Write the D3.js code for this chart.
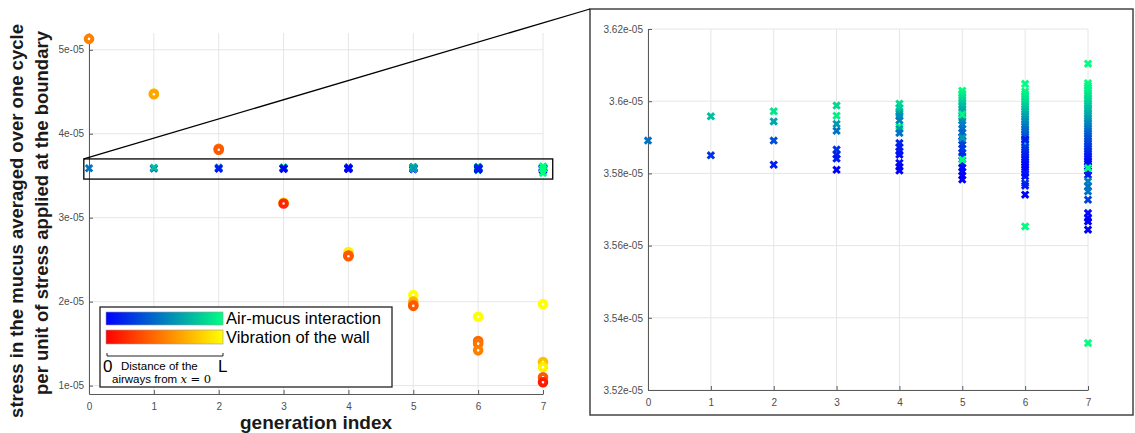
<!DOCTYPE html>
<html>
<head>
<meta charset="utf-8">
<script src="https://cdn.jsdelivr.net/npm/d3@7"></script>
<style>
body { margin: 0; background: #fff; }
text { font-family: "Liberation Sans", Arial, sans-serif; }
.tick text { fill: #4d4d4d; font-size: 10px; }
</style>
</head>
<body>
<div id="chart"></div>
<script>
// chart size
var chart_width = 1135;
var chart_height = 433;

// generation index on x
var generations = [0, 1, 2, 3, 4, 5, 6, 7];

// tick values
var leftYTicks = [1e-5, 2e-5, 3e-5, 4e-5, 5e-5];
var rightYTicks = [3.52e-5, 3.54e-5, 3.56e-5, 3.58e-5, 3.6e-5, 3.62e-5];

// air-mucus interaction, [stress (x1e-5), distance 0..1] per generation
var air0 = [[3.5891, 0.45]];
var air1 = [[3.5850, 0.2], [3.5958, 0.75]];
var air2 = [[3.5972, 0.9], [3.5944, 0.65], [3.5891, 0.3], [3.5824, 0.1]];
var air3 = [[3.5988, 0.85], [3.5960, 0.95], [3.5937, 0.6], [3.5918, 0.45],
            [3.5866, 0.2], [3.5852, 0.15], [3.5841, 0.1], [3.5810, 0.0]];
var air4 = [[3.5993, 0.85], [3.5981, 0.8], [3.5972, 0.75], [3.5965, 0.65],
            [3.5958, 0.55], [3.5930, 1.0], [3.5947, 0.5], [3.5923, 0.6],
            [3.5912, 0.45], [3.5884, 0.15], [3.5873, 0.1], [3.5861, 0.1],
            [3.5852, 0.05], [3.5829, 0.05], [3.5818, 0.0], [3.5808, 0.0]];
var air5 = [[3.6029, 1.0], [3.6021, 0.95], [3.6012, 0.9], [3.6004, 0.85],
            [3.5996, 0.8], [3.5988, 0.75], [3.5979, 0.7], [3.5971, 0.65],
            [3.5954, 0.6], [3.5946, 0.55], [3.5935, 0.5], [3.5924, 0.45],
            [3.5913, 0.4], [3.5902, 0.35], [3.5891, 0.3], [3.5880, 0.25],
            [3.5869, 0.22], [3.5857, 0.2], [3.5848, 0.15], [3.5827, 0.1],
            [3.5816, 0.06], [3.5805, 0.04], [3.5794, 0.02], [3.5783, 0.0],
            [3.5963, 0.95], [3.5838, 1.0], [3.5899, 0.6]];
var air6 = [[3.5653, 1.0], [3.6048, 1.0], [3.6027, 0.98], [3.6020, 0.95],
            [3.6013, 0.92], [3.6006, 0.9], [3.5999, 0.87], [3.5992, 0.84],
            [3.5985, 0.8], [3.5978, 0.76], [3.5971, 0.72], [3.5964, 0.68],
            [3.5957, 0.64], [3.5950, 0.6], [3.5943, 0.56], [3.5936, 0.52],
            [3.5929, 0.48], [3.5922, 0.44], [3.5915, 0.4], [3.5908, 0.36],
            [3.5901, 0.33], [3.5894, 0.3], [3.5887, 0.27], [3.5880, 0.8],
            [3.5873, 0.22], [3.5866, 0.19], [3.5859, 0.16], [3.5852, 0.13],
            [3.5845, 0.1], [3.5838, 0.08], [3.5831, 0.06], [3.5824, 0.04],
            [3.5817, 0.02], [3.5810, 0.0], [3.5800, 0.1], [3.5792, 0.05],
            [3.5773, 0.2], [3.5766, 0.1], [3.5741, 0.0], [3.5893, 0.1]];
var air7 = [[3.6050, 1.0], [3.6043, 0.98], [3.6036, 0.96], [3.6029, 0.94],
            [3.6022, 0.92], [3.6015, 0.9], [3.6008, 0.87], [3.6001, 0.84],
            [3.5994, 0.81], [3.5987, 0.78], [3.5980, 0.75], [3.5973, 0.72],
            [3.5966, 0.69], [3.5959, 0.66], [3.5952, 0.62], [3.5945, 0.58],
            [3.5938, 0.54], [3.5931, 0.5], [3.5924, 0.46], [3.5917, 0.42],
            [3.5910, 0.38], [3.5903, 0.35], [3.5896, 0.32], [3.5889, 0.29],
            [3.5882, 0.26], [3.5875, 0.23], [3.5868, 0.2], [3.5861, 0.17],
            [3.5854, 0.14], [3.5847, 0.11], [3.5840, 0.08], [3.5833, 0.06],
            [3.5826, 0.04], [3.5819, 0.02], [3.5806, 0.05], [3.5796, 0.1],
            [3.5778, 0.5], [3.5764, 0.45], [3.5750, 0.45], [3.5727, 0.25],
            [3.5690, 0.05], [3.5676, 0.02], [3.5667, 0.0], [3.5644, 0.0],
            [3.5815, 1.0], [3.6104, 1.0], [3.5330, 1.0]];
var airMucus = [air0, air1, air2, air3, air4, air5, air6, air7];

// vibration of the wall, [stress (x1e-5), distance 0..1] per generation
var wall0 = [[5.13, 0.5]];
var wall1 = [[4.48, 0.8], [4.47, 0.65]];
var wall2 = [[3.82, 0.45], [3.81, 0.35]];
var wall3 = [[3.18, 0.9], [3.17, 0.15]];
var wall4 = [[2.59, 0.95], [2.55, 0.3], [2.54, 0.35]];
var wall5 = [[2.08, 1.0], [2.00, 0.7], [1.96, 0.5], [1.95, 0.35]];
var wall6 = [[1.82, 1.0], [1.53, 0.4], [1.50, 0.45], [1.42, 0.5]];
var wall7 = [[1.97, 1.0], [1.28, 0.75], [1.22, 0.95], [1.10, 0.35], [1.04, 0.1]];
var wallVib = [wall0, wall1, wall2, wall3, wall4, wall5, wall6, wall7];

// colormaps (winter / autumn)
function winter(t){ return d3.rgb(0, 255 * t, 255 * (1 - 0.5 * t)); }
function autumn(t){ return d3.rgb(255, 255 * t, 0); }

function fmt(v){
    return (+(v / 1e-5).toPrecision(4)) + 'e-05';
}

function flatten(list){
    var out = [];
    list.forEach(function(pts, g){
        pts.forEach(function(p){ out.push({gen: generations[g], v: p[0] * 1e-5, t: p[1]}); });
    });
    return out;
}
var airPts = flatten(airMucus);
var wallPts = flatten(wallVib);

var svg = d3.select('#chart')
            .append('svg')
            .attr('width', chart_width)
            .attr('height', chart_height);

// scales
var xL = d3.scaleLinear().domain([0, 7]).range([89, 543]);
var yL = d3.scaleLinear().domain([0.9e-5, 5.2e-5]).range([394, 33]);
var xR = d3.scaleLinear().domain([0, 7]).range([648, 1088]);
var yR = d3.scaleLinear().domain([3.52e-5, 3.62e-5]).range([390, 29]);

function drawAxes(g, x, y, yTicks){
    // grid
    g.append('g').selectAll('line').data(generations).enter().append('line')
        .attr('x1', function(d){ return x(d); }).attr('x2', function(d){ return x(d); })
        .attr('y1', y.range()[0]).attr('y2', y.range()[1])
        .attr('stroke', '#e6e6e6');
    g.append('g').selectAll('line').data(yTicks).enter().append('line')
        .attr('x1', x.range()[0]).attr('x2', x.range()[1])
        .attr('y1', function(d){ return y(d); }).attr('y2', function(d){ return y(d); })
        .attr('stroke', '#e6e6e6');

    var ax = g.append('g')
        .attr('transform', 'translate(0,' + y.range()[0] + ')')
        .call(d3.axisBottom(x).tickValues(generations).tickFormat(d3.format('d'))
              .tickSizeInner(-4).tickSizeOuter(0).tickPadding(9));
    var ay = g.append('g')
        .attr('transform', 'translate(' + x.range()[0] + ',0)')
        .call(d3.axisLeft(y).tickValues(yTicks).tickFormat(fmt)
              .tickSizeInner(-4).tickSizeOuter(0).tickPadding(5));
    [ax, ay].forEach(function(a){
        a.select('.domain').attr('stroke', '#5a5a5a');
        a.selectAll('.tick line').attr('stroke', '#5a5a5a');
    });
}

function crosses(g, pts, x, y){
    g.append('g').selectAll('path').data(pts).enter().append('path')
        .attr('d', function(d){
            var cx = x(d.gen), cy = y(d.v), r = 3.2;
            return 'M' + (cx - r) + ',' + (cy - r) + 'L' + (cx + r) + ',' + (cy + r) +
                   'M' + (cx - r) + ',' + (cy + r) + 'L' + (cx + r) + ',' + (cy - r);
        })
        .attr('stroke', function(d){ return winter(d.t); })
        .attr('stroke-width', 3)
        .attr('fill', 'none');
}

// ---------- left panel ----------
var left = svg.append('g');
drawAxes(left, xL, yL, leftYTicks);

crosses(left, airPts, xL, yL);

left.append('g').selectAll('circle').data(wallPts).enter().append('circle')
    .attr('cx', function(d){ return xL(d.gen); })
    .attr('cy', function(d){ return yL(d.v); })
    .attr('r', 3.3)
    .attr('fill', '#fff')
    .attr('stroke', function(d){ return autumn(d.t); })
    .attr('stroke-width', 4);

// zoom box
var boxX0 = xL(-0.08), boxX1 = xL(7.15), boxY0 = yL(3.7e-5), boxY1 = yL(3.46e-5);
left.append('rect')
    .attr('x', boxX0).attr('y', boxY0)
    .attr('width', boxX1 - boxX0).attr('height', boxY1 - boxY0)
    .attr('fill', 'none').attr('stroke', '#000').attr('stroke-width', 1.3);

// axis titles
left.append('text')
    .attr('transform', 'translate(23,221) rotate(-90)')
    .attr('text-anchor', 'middle')
    .attr('font-size', '18.5px').attr('font-weight', 'bold').attr('fill', '#1a1a1a')
    .text('stress in the mucus averaged over one cycle');
left.append('text')
    .attr('transform', 'translate(48,213) rotate(-90)')
    .attr('text-anchor', 'middle')
    .attr('font-size', '18.5px').attr('font-weight', 'bold').attr('fill', '#1a1a1a')
    .text('per unit of stress applied at the boundary');
left.append('text')
    .attr('x', 316).attr('y', 429)
    .attr('text-anchor', 'middle')
    .attr('font-size', '19px').attr('font-weight', 'bold').attr('fill', '#1a1a1a')
    .text('generation index');

// legend
var defs = svg.append('defs');
function grad(id, cmap){
    var lg = defs.append('linearGradient').attr('id', id);
    [0, 0.25, 0.5, 0.75, 1].forEach(function(t){
        lg.append('stop').attr('offset', t).attr('stop-color', cmap(t));
    });
}
grad('gWinter', winter);
grad('gAutumn', autumn);

var leg = left.append('g');
leg.append('rect').attr('x', 100).attr('y', 307).attr('width', 292).attr('height', 80)
    .attr('fill', '#fff').attr('stroke', '#222').attr('stroke-width', 1.3);
leg.append('rect').attr('x', 106).attr('y', 312).attr('width', 117).attr('height', 13)
    .attr('fill', 'url(#gWinter)').attr('stroke', '#999').attr('stroke-width', 0.6);
leg.append('rect').attr('x', 106).attr('y', 330).attr('width', 117).attr('height', 14)
    .attr('fill', 'url(#gAutumn)').attr('stroke', '#999').attr('stroke-width', 0.6);
leg.append('text').attr('x', 226).attr('y', 324).attr('font-size', '16.5px').text('Air-mucus interaction');
leg.append('text').attr('x', 226).attr('y', 343).attr('font-size', '16.5px').text('Vibration of the wall');
leg.append('path').attr('d', 'M107,353V356H223V353')
    .attr('fill', 'none').attr('stroke', '#222').attr('stroke-width', 1);
leg.append('text').attr('x', 103).attr('y', 372).attr('font-size', '17px').text('0');
leg.append('text').attr('x', 218).attr('y', 372).attr('font-size', '17px').text('L');
leg.append('text').attr('x', 121).attr('y', 370).attr('font-size', '11.5px').text('Distance of the');
var l2 = leg.append('text').attr('x', 112).attr('y', 383).attr('font-size', '11.5px');
l2.append('tspan').text('airways from ');
l2.append('tspan').attr('font-family', 'DejaVu Serif').attr('font-style', 'italic').text('x');
l2.append('tspan').attr('font-family', 'DejaVu Serif').text(' = 0');

// ---------- right panel ----------
var right = svg.append('g');
right.append('rect').attr('x', 590).attr('y', 9).attr('width', 543).attr('height', 406)
    .attr('fill', '#fff').attr('stroke', '#444').attr('stroke-width', 1.5);
drawAxes(right, xR, yR, rightYTicks);
crosses(right, airPts, xR, yR);

// zoom connector
svg.append('line')
    .attr('x1', boxX0).attr('y1', boxY0)
    .attr('x2', 590).attr('y2', 9)
    .attr('stroke', '#000').attr('stroke-width', 1.3);
</script>
</body>
</html>
